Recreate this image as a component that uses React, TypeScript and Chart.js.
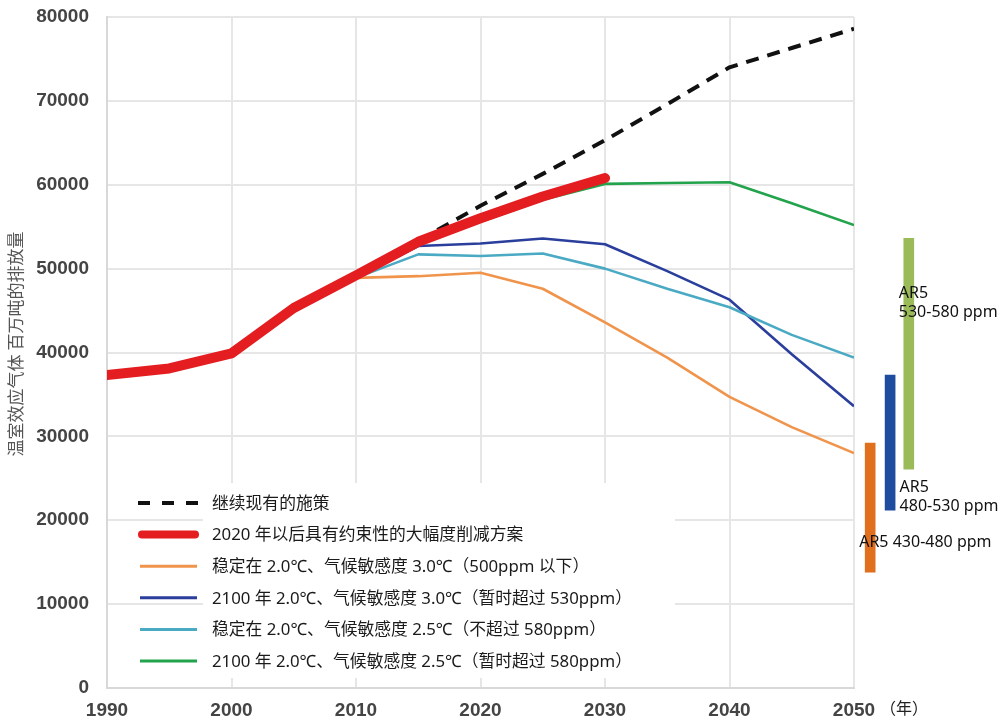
import React, { useEffect, useRef } from 'react';
import { Chart, registerables } from 'chart.js';

Chart.register(...registerables);

// ---------- data ----------
const years = [1990, 1995, 2000, 2005, 2010, 2015, 2020, 2025, 2030, 2035, 2040, 2045, 2050];

const currentPolicy = [null, null, null, null, null, 53300, 57500, 61300, 65300, 69600, 74000, 76300, 78600];
const bindingCuts = [37300, 38100, 39900, 45300, 49200, 53200, 56000, 58600, 60800, null, null, null, null];
const stab20s30 = [null, null, null, null, 48900, 49100, 49500, 47600, 43600, 39400, 34700, 31100, 28000];
const t2100s30 = [null, null, null, null, 48900, 52700, 53000, 53600, 52900, 49700, 46300, 39800, 33600];
const stab20s25 = [null, null, null, null, 48900, 51700, 51500, 51800, 50000, 47600, 45400, 42100, 39400];
const t2100s25 = [null, null, null, null, 48900, 52800, 55600, 58200, 60100, 60200, 60300, 57800, 55200];

const seriesLabels = [
  '继续现有的施策',
  '2020 年以后具有约束性的大幅度削减方案',
  '稳定在 2.0℃、气候敏感度 3.0℃（500ppm 以下）',
  '2100 年 2.0℃、气候敏感度 3.0℃（暂时超过 530ppm）',
  '稳定在 2.0℃、气候敏感度 2.5℃（不超过 580ppm）',
  '2100 年 2.0℃、气候敏感度 2.5℃（暂时超过 580ppm）',
];

const ar5X = [2051.3, 2052.9, 2054.4];
const ar5Low = [13800, 21200, 26100];
const ar5High = [29200, 37300, 53600];
const ar5Labels = [['AR5 430-480 ppm'], ['AR5', '480-530 ppm'], ['AR5', '530-580 ppm']];

const yAxisTitle = '温室效应气体 百万吨的排放量';
const xAxisUnit = '（年）';

// ---------- styles ----------
const lineColors = ['#111111', '#e41d21', '#f0944c', '#2a3e9c', '#4aaac4', '#22a34c'];
const barColors = ['#e06f1e', '#1f4c9f', '#9bbb59'];
const LATIN = '"Noto Sans", "Noto Sans CJK SC", sans-serif';

const legendSamples = [
  { w: 4, dash: [12, 12], cap: 'butt', x0: 138, x1: 198 },
  { w: 8, dash: [], cap: 'round', x0: 142, x1: 195 },
  { w: 3, dash: [], cap: 'butt', x0: 140, x1: 197 },
  { w: 3, dash: [], cap: 'butt', x0: 140, x1: 197 },
  { w: 3, dash: [], cap: 'butt', x0: 140, x1: 197 },
  { w: 3, dash: [], cap: 'butt', x0: 140, x1: 197 },
];

// label offsets relative to each bar (dx from bar center, dy from bar top or bottom)
const ar5LabelLayout = [
  { dx: -11, from: 'base', dy: -30 },
  { dx: 9.5, from: 'base', dy: -23 },
  { dx: -10, from: 'top', dy: 55 },
];

const decorPlugin = {
  id: 'decor',
  afterDatasetsDraw(chart: any) {
    const ctx = chart.ctx;
    ctx.save();
    // legend box
    ctx.fillStyle = '#ffffff';
    ctx.fillRect(203, 483, 472, 195);
    const lineSets = chart.data.datasets.filter((d: any) => d.type !== 'bar');
    lineSets.forEach((ds: any, i: number) => {
      const y = 503 + i * 31.6;
      const s = legendSamples[i];
      ctx.beginPath();
      ctx.strokeStyle = ds.borderColor;
      ctx.lineWidth = s.w;
      ctx.lineCap = s.cap;
      ctx.setLineDash(s.dash);
      ctx.moveTo(s.x0, y);
      ctx.lineTo(s.x1, y);
      ctx.stroke();
      ctx.setLineDash([]);
      ctx.fillStyle = '#1a1a1a';
      ctx.font = `16.8px ${LATIN}`;
      ctx.textAlign = 'left';
      ctx.textBaseline = 'middle';
      ctx.fillText(ds.label, 212, y + 1);
    });

    // AR5 labels
    const barIdx = chart.data.datasets.findIndex((d: any) => d.type === 'bar');
    if (barIdx >= 0) {
      const meta = chart.getDatasetMeta(barIdx);
      meta.data.forEach((el: any, i: number) => {
        const L = ar5LabelLayout[i];
        const top = Math.min(el.y, el.base);
        const bot = Math.max(el.y, el.base);
        const y0 = (L.from === 'base' ? bot : top) + L.dy;
        ctx.fillStyle = '#111111';
        ctx.font = `16px ${LATIN}`;
        ctx.textAlign = 'left';
        ctx.textBaseline = 'middle';
        ar5Labels[i].forEach((t, k) => {
          ctx.fillText(t, el.x + L.dx, y0 + k * 19);
        });
      });
    }

    // y-axis title
    ctx.save();
    ctx.translate(16, 344);
    ctx.rotate(-Math.PI / 2);
    ctx.fillStyle = '#555555';
    ctx.font = '17px "Noto Sans CJK SC", sans-serif';
    ctx.textAlign = 'center';
    ctx.textBaseline = 'middle';
    ctx.fillText(yAxisTitle, 0, 0);
    ctx.restore();

    // x unit
    ctx.fillStyle = '#222222';
    ctx.font = '16px "Noto Sans CJK SC", sans-serif';
    ctx.textAlign = 'center';
    ctx.textBaseline = 'middle';
    ctx.fillText(xAxisUnit, 904, 708);
    ctx.restore();
  },
};

export default function App() {
  const ref = useRef<HTMLCanvasElement | null>(null);

  useEffect(() => {
    if (!ref.current) return;
    const lineData = [currentPolicy, bindingCuts, stab20s30, t2100s30, stab20s25, t2100s25];
    const widths = [4, 10, 2.6, 2.6, 2.6, 2.6];
    const orders = [1, 0, 5, 4, 3, 2];
    const datasets: any[] = lineData.map((d, i) => ({
      type: 'line',
      label: seriesLabels[i],
      data: d,
      borderColor: lineColors[i],
      backgroundColor: lineColors[i],
      borderWidth: widths[i],
      borderDash: i === 0 ? [13, 9] : [],
      borderCapStyle: i === 1 ? 'round' : 'butt',
      borderJoinStyle: 'round',
      pointRadius: 0,
      tension: 0,
      fill: false,
      order: orders[i],
    }));
    datasets.push({
      type: 'bar',
      label: 'AR5',
      data: ar5X.map((x, i) => ({ x, y: [ar5Low[i], ar5High[i]] })),
      backgroundColor: barColors,
      borderWidth: 0,
      barThickness: 10,
      clip: false,
      order: 10,
    });

    const tickFont = { family: '"Liberation Sans", Arial, sans-serif', size: 19, weight: 'bold' };

    const chart = new Chart(ref.current, {
      type: 'line',
      data: { labels: years, datasets },
      options: {
        animation: false,
        responsive: false,
        devicePixelRatio: 1,
        events: [],
        layout: { padding: { top: 17, right: 149, left: 0, bottom: 0 } },
        plugins: {
          legend: { display: false },
          tooltip: { enabled: false },
        },
        scales: {
          x: {
            type: 'linear',
            min: 1990,
            max: 2050,
            offset: false,
            afterFit: (s: any) => { s.height = 34; },
            grid: { color: '#e6e6e6', lineWidth: 2, drawTicks: true, tickLength: 11, tickColor: 'rgba(0,0,0,0)', offset: false },
            border: { color: '#d8d8d8', width: 2 },
            ticks: {
              stepSize: 10,
              padding: 0,
              maxRotation: 0,
              color: '#444444',
              font: tickFont,
              callback: (v: any) => String(v),
            },
          },
          y: {
            min: 0,
            max: 80000,
            afterFit: (s: any) => { s.width = 107; },
            grid: { color: '#e6e6e6', lineWidth: 2, drawTicks: true, tickLength: 18, tickColor: 'rgba(0,0,0,0)' },
            border: { color: '#d8d8d8', width: 2 },
            ticks: {
              stepSize: 10000,
              padding: 0,
              color: '#444444',
              font: tickFont,
              callback: (v: any) => String(v),
            },
          },
        },
      },
      plugins: [decorPlugin],
    } as any);
    return () => chart.destroy();
  }, []);

  return (
    <div style={{ position: 'absolute', left: 0, top: 0, width: 1003, height: 722, background: '#ffffff' }}>
      <canvas ref={ref} width={1003} height={722} style={{ display: 'block' }} />
    </div>
  );
}
